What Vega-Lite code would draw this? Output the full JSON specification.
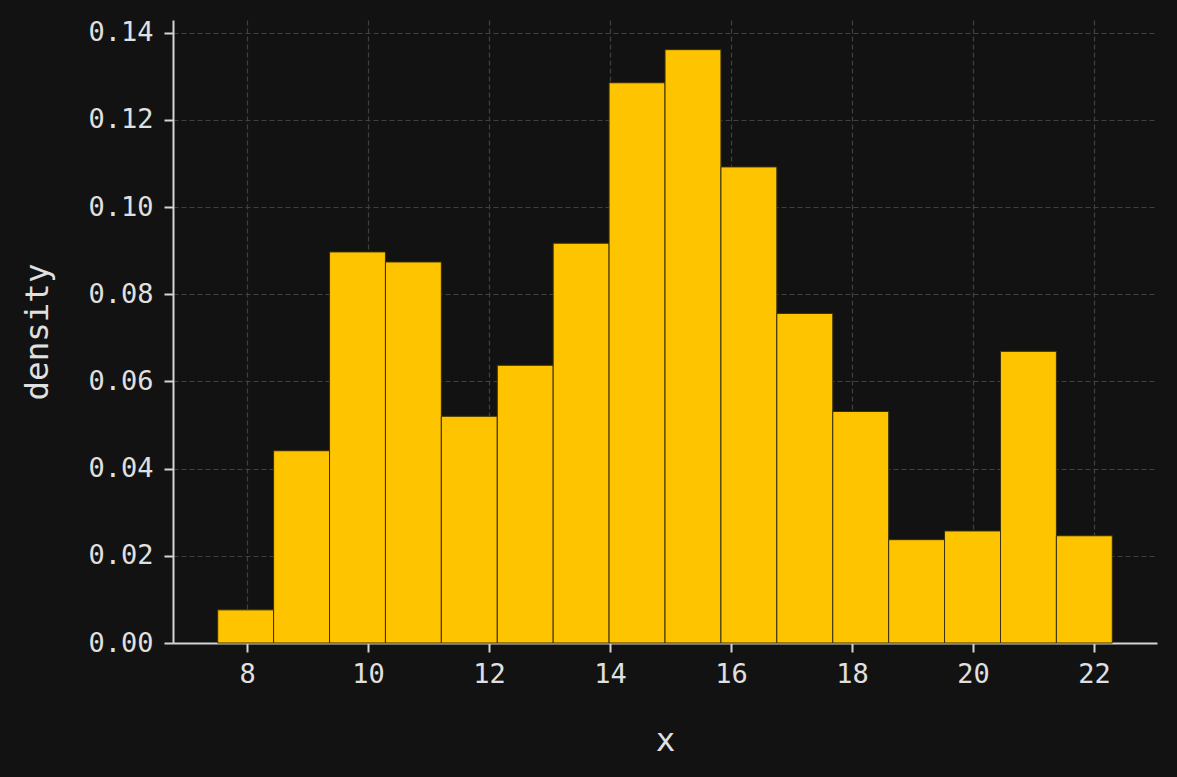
{
  "$schema": "https://vega.github.io/schema/vega-lite/v6.json",
  "width": 984,
  "height": 623,
  "autosize": {"type": "none"},
  "padding": {"left": 173, "top": 20, "right": 20, "bottom": 134},
  "background": "#121212",
  "config": {
    "view": {"stroke": null},
    "font": "DejaVu Sans Mono",
    "axis": {
      "labelFont": "DejaVu Sans Mono",
      "titleFont": "DejaVu Sans Mono",
      "labelColor": "#e0e0e0",
      "titleColor": "#e0e0e0",
      "labelFontSize": 27,
      "titleFontSize": 32.5,
      "titleFontWeight": "normal",
      "domainColor": "#d4d4d4",
      "domainWidth": 2,
      "tickColor": "#d4d4d4",
      "tickWidth": 2,
      "tickSize": 9,
      "gridColor": "#404040",
      "gridDash": [5, 3],
      "gridWidth": 1.2
    }
  },
  "data": {
    "values": [
      {"x0": 7.514, "x1": 8.438, "density": 0.0076},
      {"x0": 8.438, "x1": 9.363, "density": 0.0441},
      {"x0": 9.363, "x1": 10.287, "density": 0.0897},
      {"x0": 10.287, "x1": 11.211, "density": 0.0874},
      {"x0": 11.211, "x1": 12.136, "density": 0.0520},
      {"x0": 12.136, "x1": 13.060, "density": 0.0637},
      {"x0": 13.060, "x1": 13.984, "density": 0.0917},
      {"x0": 13.984, "x1": 14.909, "density": 0.1285},
      {"x0": 14.909, "x1": 15.833, "density": 0.1361},
      {"x0": 15.833, "x1": 16.757, "density": 0.1092},
      {"x0": 16.757, "x1": 17.682, "density": 0.0756},
      {"x0": 17.682, "x1": 18.606, "density": 0.0531},
      {"x0": 18.606, "x1": 19.530, "density": 0.0237},
      {"x0": 19.530, "x1": 20.455, "density": 0.0257},
      {"x0": 20.455, "x1": 21.379, "density": 0.0669},
      {"x0": 21.379, "x1": 22.303, "density": 0.0246}
    ]
  },
  "mark": {"type": "rect", "color": "#ffc400", "stroke": "#3a2f05", "strokeWidth": 1},
  "encoding": {
    "x": {
      "field": "x0",
      "type": "quantitative",
      "scale": {"domain": [6.775, 23.042], "nice": false, "zero": false},
      "axis": {
        "title": "x",
        "values": [8, 10, 12, 14, 16, 18, 20, 22],
        "labelPadding": 9,
        "titleY": 107,
        "titleBaseline": "alphabetic"
      }
    },
    "x2": {"field": "x1"},
    "y": {
      "field": "density",
      "type": "quantitative",
      "scale": {"domain": [0, 0.1429], "nice": false},
      "axis": {
        "title": "density",
        "values": [0, 0.02, 0.04, 0.06, 0.08, 0.1, 0.12, 0.14],
        "format": ".2f",
        "labelPadding": 11,
        "titleX": -136,
        "titleY": 311.5,
        "titleBaseline": "middle",
        "titleAlign": "center",
        "titleAngle": -90
      }
    },
    "y2": {"datum": 0}
  }
}
